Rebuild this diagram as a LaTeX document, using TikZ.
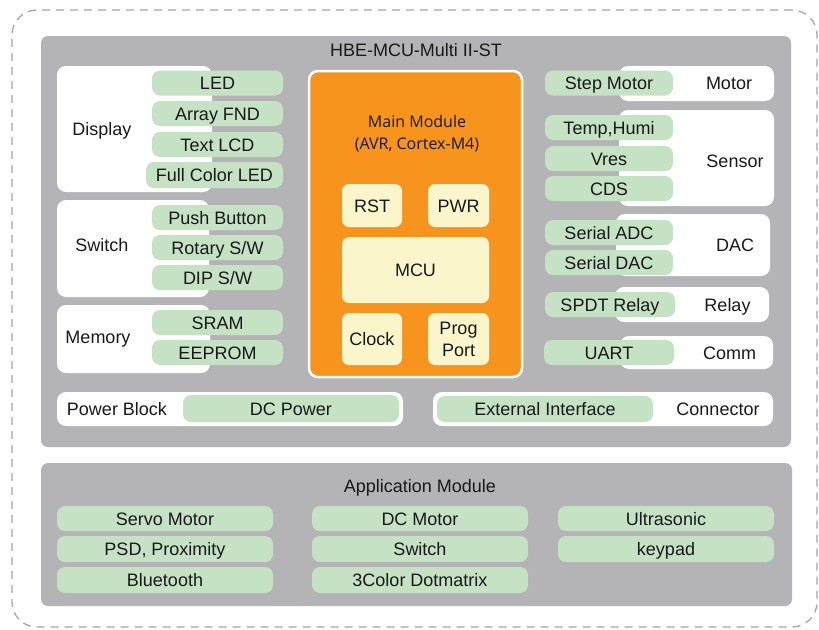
\documentclass[tikz,border=0pt]{standalone}
\usepackage{fontspec}
\setmainfont{Liberation Sans}
\newfontfamily\mmfont{Open Sans}
\definecolor{panel}{RGB}{180,180,182}
\definecolor{grn}{RGB}{197,226,196}
\definecolor{org}{RGB}{247,148,30}
\definecolor{crm}{RGB}{251,245,204}
\definecolor{dashc}{RGB}{165,165,165}
\definecolor{ink}{RGB}{25,25,25}
\begin{document}
\begin{tikzpicture}[x=1pt,y=-1pt,
 every node/.style={inner sep=0pt, outer sep=0pt, text=ink, font=\fontsize{18}{21}\selectfont},
 one/.style={text height=13pt, text depth=0pt},
 outerbox/.style={draw=dashc, line width=1.3pt, dash pattern=on 8pt off 6pt, rounded corners=25pt},
 panelbox/.style={fill=panel, rounded corners=7pt},
 wbox/.style={fill=white, rounded corners=9pt},
 gbox/.style={fill=grn, rounded corners=8pt, one},
 orgbox/.style={fill=org, draw=white, line width=2.5pt, rounded corners=9pt},
 cbox/.style={fill=crm, rounded corners=7pt},
 lbl/.style={one},
 sz/.style 2 args={minimum width=#1, minimum height=#2}
]
\useasboundingbox (0,0) rectangle (819,629);
\fill[white] (0,0) rectangle (819,629);
% outer dashed frame
\node[outerbox, sz={805}{617}] (frame) at (414.5,318.5) {};
% panels
\node[panelbox, sz={750}{411}] (upper) at (416,241.5) {};
\node[panelbox, sz={751}{143}] (lower) at (416.5,534.5) {};
\node[lbl] (title) at (416,50) {HBE-MCU-Multi II-ST};
\node[lbl] (apptitle) at (420,486) {Application Module};

% left white groups
\node[wbox, sz={155}{126}] (disp) at (134.5,129) {};
\node[wbox, sz={152}{97}] (sw) at (133,248.5) {};
\node[wbox, sz={153}{68}] (mem) at (133.5,339) {};
\node[wbox, sz={346}{34}] (pwr) at (230,409) {};
\node[lbl] (displbl) at (102,129) {Display};
\node[lbl] (swlbl) at (102,245) {Switch};
\node[lbl] (memlbl) at (98,337) {Memory};
\node[lbl] (pwrlbl) at (117,409) {Power Block};

\node[gbox, sz={131}{25}] (led) at (217.5,83) {LED};
\node[gbox, sz={131}{25}] (fnd) at (217.5,113.5) {Array FND};
\node[gbox, sz={131}{25}] (lcd) at (217.5,144.5) {Text LCD};
\node[gbox, sz={137}{26}] (fcled) at (214.5,175) {Full Color LED};
\node[gbox, sz={131}{25}] (push) at (217.5,217.5) {Push Button};
\node[gbox, sz={131}{25}] (rot) at (217.5,247.5) {Rotary S/W};
\node[gbox, sz={131}{25}] (dip) at (217.5,277.5) {DIP S/W};
\node[gbox, sz={131}{25}] (sram) at (217.5,322.5) {SRAM};
\node[gbox, sz={131}{25}] (eep) at (217.5,352.5) {EEPROM};
\node[gbox, sz={216}{27}] (dcp) at (291,408.5) {DC Power};

% main module
\node[orgbox, sz={213}{306}] (main) at (415.5,224) {};
\node[font=\mmfont\fontsize{16}{22}\selectfont, align=center, text=ink] (mainlbl) at (417,134) {Main Module\\(AVR, Cortex-M4)};
\node[cbox, one, sz={60}{43}] (rst) at (372,205.5) {RST};
\node[cbox, one, sz={61}{43}] (pwrb) at (458.5,205.5) {PWR};
\node[cbox, one, sz={147}{66}] (mcu) at (415.5,270) {MCU};
\node[cbox, one, sz={60}{52}] (clk) at (372,339) {Clock};
\node[cbox, sz={61}{52}, align=center, font=\fontsize{18}{22}\selectfont] (prog) at (458.5,339) {Prog\\Port};

% right white groups
\node[wbox, sz={155}{35}] (motor) at (696.5,83.5) {};
\node[wbox, sz={155}{96}] (sensor) at (696.5,158) {};
\node[wbox, sz={154}{62}] (dac) at (693,245) {};
\node[wbox, sz={154}{35}] (relay) at (692,304.5) {};
\node[wbox, sz={153}{33}] (comm) at (696.5,352.5) {};
\node[wbox, sz={340}{34}] (conn) at (603,409) {};
\node[lbl] (motorlbl) at (729,83) {Motor};
\node[lbl] (senslbl) at (735,161) {Sensor};
\node[lbl] (daclbl) at (735,245) {DAC};
\node[lbl] (relaylbl) at (727.5,304.5) {Relay};
\node[lbl] (commlbl) at (729.5,353) {Comm};
\node[lbl] (connlbl) at (718,409) {Connector};

\node[gbox, sz={128}{25}] (step) at (609,83) {Step Motor};
\node[gbox, sz={128}{25}] (temp) at (609,127.5) {Temp,Humi};
\node[gbox, sz={128}{25}] (vres) at (609,158.5) {Vres};
\node[gbox, sz={128}{25}] (cds) at (609,188.5) {CDS};
\node[gbox, sz={128}{25}] (sadc) at (609,232.5) {Serial ADC};
\node[gbox, sz={128}{25}] (sdac) at (609,262.5) {Serial DAC};
\node[gbox, sz={130}{25}] (spdt) at (610,304.5) {SPDT Relay};
\node[gbox, sz={130}{25}] (uart) at (609,352.5) {UART};
\node[gbox, sz={216}{26}] (ext) at (545,409) {External Interface};

% application module
\node[gbox, sz={216}{25}] (servo) at (165,518.5) {Servo Motor};
\node[gbox, sz={216}{26}] (psd) at (165,549) {PSD, Proximity};
\node[gbox, sz={216}{26}] (bt) at (165,580) {Bluetooth};
\node[gbox, sz={216}{25}] (dcm) at (420,518.5) {DC Motor};
\node[gbox, sz={216}{26}] (swa) at (420,549) {Switch};
\node[gbox, sz={216}{26}] (dot) at (420,580) {3Color Dotmatrix};
\node[gbox, sz={216}{25}] (ultra) at (666,518.5) {Ultrasonic};
\node[gbox, sz={216}{26}] (key) at (666,549) {keypad};
\end{tikzpicture}
\end{document}
